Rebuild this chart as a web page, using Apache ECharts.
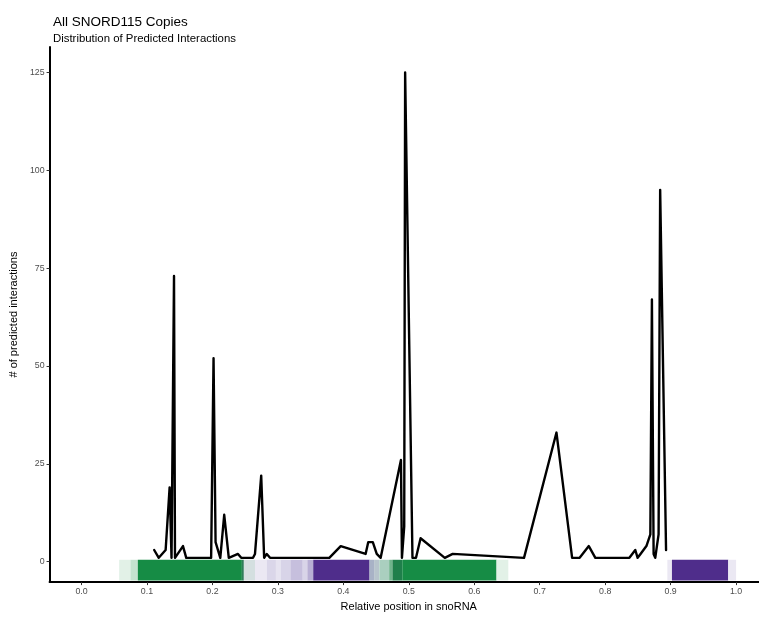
<!DOCTYPE html>
<html>
<head>
<meta charset="utf-8">
<script src="https://cdn.jsdelivr.net/npm/echarts@6/dist/echarts.min.js"></script>
<style>html,body{margin:0;padding:0;background:#fff;}#chart{width:759px;height:617px;}</style>
</head>
<body>
<div id="chart"></div>
<script>
// Line: relative position vs number of predicted interactions
var posX = [0.111, 0.118, 0.1285, 0.1346, 0.1375, 0.1413, 0.1428, 0.155, 0.160, 0.198,
            0.2017, 0.2048, 0.212, 0.218, 0.225, 0.239, 0.244, 0.262, 0.265, 0.2745,
            0.279, 0.283, 0.288, 0.3785, 0.396, 0.434, 0.438, 0.445, 0.451, 0.457,
            0.488, 0.4895, 0.493, 0.4944, 0.5056, 0.511, 0.518, 0.555, 0.567, 0.676,
            0.7256, 0.7495, 0.761, 0.775, 0.785, 0.837, 0.846, 0.8496, 0.854, 0.863,
            0.869, 0.8714, 0.874, 0.8765, 0.8816, 0.884, 0.893];
var counts = [3, 1, 3, 19, 1, 73, 1, 4, 1, 1,
              52, 5, 1, 12, 1, 2, 1, 1, 2, 22,
              1, 2, 1, 1, 4, 2, 5, 5, 2, 1,
              26, 1, 9, 125, 1, 1, 6, 1, 2, 1,
              33, 1, 1, 4, 1, 1, 3, 1, 2, 4,
              7, 67, 2, 1, 7, 95, 3];

// Annotation band segments along the snoRNA
var bandStart = [0.0575, 0.0747, 0.086, 0.245, 0.248, 0.265, 0.283, 0.297, 0.304, 0.319, 0.338, 0.345, 0.354,
                 0.440, 0.447, 0.455, 0.470, 0.475, 0.490, 0.634, 0.895, 0.902, 0.988];
var bandEnd   = [0.0747, 0.086, 0.245, 0.248, 0.265, 0.283, 0.297, 0.304, 0.319, 0.338, 0.345, 0.354, 0.440,
                 0.447, 0.455, 0.470, 0.475, 0.490, 0.634, 0.652, 0.902, 0.988, 1.000];
var bandColor = ['#e2f1e7', '#c5e3cf', '#168c45', '#2f7d5a', '#d4dfe0', '#ebe8f3', '#dad6e9', '#e6e3f0', '#d8d4e8', '#c6bfdd', '#d8d4e8', '#b8afd4', '#4f2d8b',
                 '#a8b2c6', '#b7c4cc', '#aacfbf', '#70b48c', '#1f7f4b', '#168c45', '#e2f1e7', '#ebe8f3', '#4f2d8b', '#ebe8f3'];
var bandTop = 0.5;
var bandBottom = -4.8;

var xTicks = [0, 0.1, 0.2, 0.3, 0.4, 0.5, 0.6, 0.7, 0.8, 0.9, 1.0];
var yTicks = [0, 25, 50, 75, 100, 125];

var FONT = 'Liberation Sans, Arial, Helvetica, sans-serif';

var lineData = posX.map(function (x, i) { return [x, counts[i]]; });
var bandData = bandStart.map(function (s, i) { return [s, bandEnd[i], i]; });

var chart = echarts.init(document.getElementById('chart'), null, {renderer: 'canvas'});
chart.setOption({
  animation: false,
  backgroundColor: '#ffffff',
  title: [
    {text: 'All SNORD115 Copies', left: 48, top: 10,
     textStyle: {fontFamily: FONT, fontSize: 13.5, fontWeight: 'normal', color: '#000'}},
    {text: 'Distribution of Predicted Interactions', left: 48, top: 28,
     textStyle: {fontFamily: FONT, fontSize: 11.4, fontWeight: 'normal', color: '#000'}}
  ],
  grid: {left: 48, right: 0, top: 47, bottom: 32, containLabel: false},
  xAxis: {
    type: 'value', min: -0.0488, max: 1.035,
    name: 'Relative position in snoRNA', nameLocation: 'middle', nameGap: 17,
    nameTextStyle: {fontFamily: FONT, fontSize: 11, color: '#000', padding: [0, 0, 0, 9]},
    axisLine: {show: true, onZero: false, lineStyle: {color: '#000', width: 2}},
    axisTick: {show: true, length: 3, customValues: xTicks, lineStyle: {color: '#333', width: 1}},
    axisLabel: {customValues: xTicks, margin: 5, fontFamily: FONT, fontSize: 8.8, color: '#4d4d4d',
                formatter: function (v) { return v.toFixed(1); }},
    splitLine: {show: false}
  },
  yAxis: {
    type: 'value', min: -5.2, max: 131.5,
    name: '# of predicted interactions', nameLocation: 'middle', nameGap: 30, nameRotate: 90,
    nameTextStyle: {fontFamily: FONT, fontSize: 11, color: '#000'},
    axisLine: {show: true, onZero: false, lineStyle: {color: '#000', width: 2}},
    axisTick: {show: true, length: 3, customValues: yTicks, lineStyle: {color: '#333', width: 1}},
    axisLabel: {customValues: yTicks, margin: 5, fontFamily: FONT, fontSize: 8.8, color: '#4d4d4d'},
    splitLine: {show: false}
  },
  series: [
    {
      type: 'custom',
      z: 1,
      data: bandData,
      encode: {x: [0, 1]},
      renderItem: function (params, api) {
        var p0 = api.coord([api.value(0), bandTop]);
        var p1 = api.coord([api.value(1), bandBottom]);
        return {
          type: 'rect',
          shape: {x: p0[0], y: p0[1], width: p1[0] - p0[0], height: p1[1] - p0[1]},
          style: {fill: bandColor[api.value(2)]}
        };
      }
    },
    {
      type: 'line',
      z: 3,
      data: lineData,
      showSymbol: false,
      symbol: 'none',
      lineStyle: {color: '#000', width: 2.4, join: 'round', cap: 'round'}
    }
  ]
});
</script>
</body>
</html>
